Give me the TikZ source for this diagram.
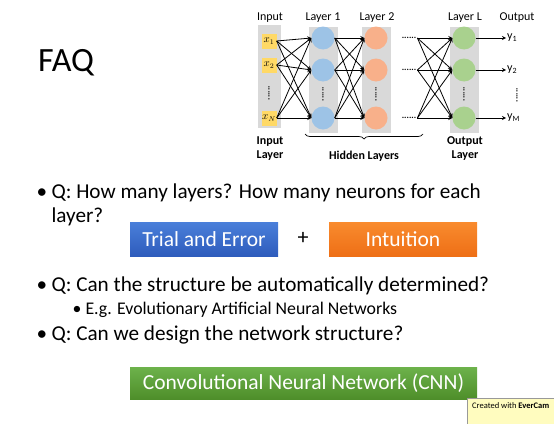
\documentclass[tikz,border=0pt]{standalone}
\usepackage{fontspec}
\setmainfont{Carlito}
\usetikzlibrary{positioning}
\usetikzlibrary{arrows}
\usetikzlibrary{decorations.pathreplacing}
\definecolor{inyellow}{HTML}{FFD966}
\definecolor{colgray}{HTML}{D9D9D9}
\definecolor{neublue}{HTML}{9DC3E6}
\definecolor{neuorange}{HTML}{F8B08A}
\definecolor{neugreen}{HTML}{A9D18E}
\definecolor{trialtop}{HTML}{4A7FDA}
\definecolor{trialbot}{HTML}{2E5CBC}
\definecolor{intutop}{HTML}{F98B2E}
\definecolor{intubot}{HTML}{EE6F16}
\definecolor{cnntop}{HTML}{6DB24B}
\definecolor{cnnbot}{HTML}{4E8E2A}
\tikzset{
  column/.style={rectangle,fill=colgray,minimum width=29pt,
                 minimum height=106pt,inner sep=0pt},
  inbox/.style={rectangle,fill=inyellow,minimum size=15pt,inner sep=0.5pt,
                font=\fontsize{10.5}{11}\selectfont},
  neuron/.style={circle,minimum size=23pt,inner sep=0pt},
  link/.style={>=stealth,line width=0.8pt,->},
  toplabel/.style={font=\fontsize{12}{14}\selectfont},
  laylabel/.style={font=\bfseries\fontsize{12}{14}\selectfont,align=center},
  outlabel/.style={font=\fontsize{12}{13}\selectfont,inner sep=1pt,anchor=west},
  hdots/.style={font=\bfseries\fontsize{9}{9}\selectfont,inner sep=1pt},
  vdots/.style={rotate=90,font=\bfseries\fontsize{9}{9}\selectfont,inner sep=0pt},
  question/.style={anchor=base west,font=\fontsize{21.2}{24}\selectfont},
  subquestion/.style={anchor=base west,font=\fontsize{17.8}{20}\selectfont},
  answer/.style={rectangle,text=white,font=\fontsize{21.5}{24}\selectfont,
                 inner sep=0pt},
}

\begin{document}
\begin{tikzpicture}[x=1pt,y=-1pt]
    \useasboundingbox (0,0) rectangle (554,423);

    % Title
    \node[anchor=base west,font=\fontsize{34}{36}\selectfont,inner sep=0pt]
        (title) at (38,71) {FAQ};

    % Columns
    \node[column,minimum width=23pt,minimum height=103pt] (colin) at (269.5,76.5) {};
    \node[column] (cola) at (323,80) {};
    \node[column] (colb) at (376,80) {};
    \node[column] (colc) at (464,80) {};

    % Input layer
    \node[inbox] (x1) at (269,41) {$x_1$};
    \node[inbox] (x2) at (269,65) {$x_2$};
    \node[inbox] (x3) at (269,118) {$x_N$};

    % Hidden and output neurons
    \node[neuron,fill=neublue] (a1) at (323,38) {};
    \node[neuron,fill=neublue] (a2) at (323,70) {};
    \node[neuron,fill=neublue] (a3) at (323,118) {};
    \node[neuron,fill=neuorange] (b1) at (376,38) {};
    \node[neuron,fill=neuorange] (b2) at (376,70) {};
    \node[neuron,fill=neuorange] (b3) at (376,118) {};
    \node[neuron,fill=neugreen] (c1) at (464,38) {};
    \node[neuron,fill=neugreen] (c2) at (464,70) {};
    \node[neuron,fill=neugreen] (c3) at (464,118) {};

    % Horizontal dots
    \node[hdots] (d1) at (409,38) {......};
    \node[hdots] (d2) at (409,70) {......};
    \node[hdots] (d3) at (409,118) {......};

    % Vertical dots
    \node[vdots] (vx) at (269,93) {......};
    \node[vdots] (va) at (323,94) {......};
    \node[vdots] (vb) at (376,94) {......};
    \node[vdots] (vc) at (464,94) {......};
    \node[vdots] (vy) at (517,95) {......};

    % Outputs
    \node[outlabel] (y1) at (506,38) {y\textsubscript{1}};
    \node[outlabel] (y2) at (506,70) {y\textsubscript{2}};
    \node[outlabel] (y3) at (506,118) {y\textsubscript{M}};

    % Connections
    \foreach \i in {1,2,3}
      \foreach \j in {1,2,3} {
        \draw[link] (x\i.east) -- (a\j.west);
        \draw[link] (a\i.east) -- (b\j.west);
        \draw[link] (d\i.east) -- (c\j.west);
      }
    \foreach \i in {1,2,3}
      \draw[link] (c\i.east) -- (y\i.west);

    % Labels
    \node[toplabel] (lin)  at (270,18) {Input};
    \node[toplabel] (la)   at (323,18) {Layer 1};
    \node[toplabel] (lb)   at (377,18) {Layer 2};
    \node[toplabel] (lc)   at (465,18) {Layer L};
    \node[toplabel] (lout) at (517,18) {Output};
    \node[laylabel] (inlayer)  at (270,149) {Input\\Layer};
    \node[laylabel] (outlayer) at (465,149) {Output\\Layer};
    \draw[decorate,decoration={brace,mirror,amplitude=5pt},line width=0.7pt]
        (305,134) -- (423,134);
    \node[laylabel] (hidden) at (364,156) {Hidden Layers};

    % Questions
    \node[question] (p1) at (33,198) {\textbullet};
    \node[question] (q1) at (48,198) {Q: How many layers? How many neurons for each};
    \node[question] (q1b) at (48,222) {layer?};
    \node[answer,minimum width=148pt,minimum height=34pt,
          top color=trialtop,bottom color=trialbot]
        (trial) at (204,239) {Trial and Error};
    \node[font=\fontsize{22}{24}\selectfont] (plus) at (303,238) {+};
    \node[answer,minimum width=148pt,minimum height=34pt,
          top color=intutop,bottom color=intubot]
        (intuit) at (403,239) {Intuition};
    \node[question] (p2) at (33,291) {\textbullet};
    \node[question] (q2) at (48,291) {Q: Can the structure be automatically determined?};
    \node[subquestion] (p2a) at (69,314) {\textbullet};
    \node[subquestion] (q2a) at (82,314) {E.g. Evolutionary Artificial Neural Networks};
    \node[question] (p3) at (33,340) {\textbullet};
    \node[question] (q3) at (48,340) {Q: Can we design the network structure?};
    \node[answer,minimum width=347pt,minimum height=32pt,
          top color=cnntop,bottom color=cnnbot]
        (cnn) at (303.5,383) {Convolutional Neural Network (CNN)};

    % Watermark
    \node[anchor=north west,draw=black!40,fill=yellow!25,inner sep=0pt,
          minimum width=100pt,minimum height=26pt] (mark) at (467,398) {};
    \node[anchor=base west,font=\fontsize{8.5}{9}\selectfont,inner sep=0pt]
        (marktext) at (472,408) {Created with \textbf{EverCam}};
\end{tikzpicture}
\end{document}
